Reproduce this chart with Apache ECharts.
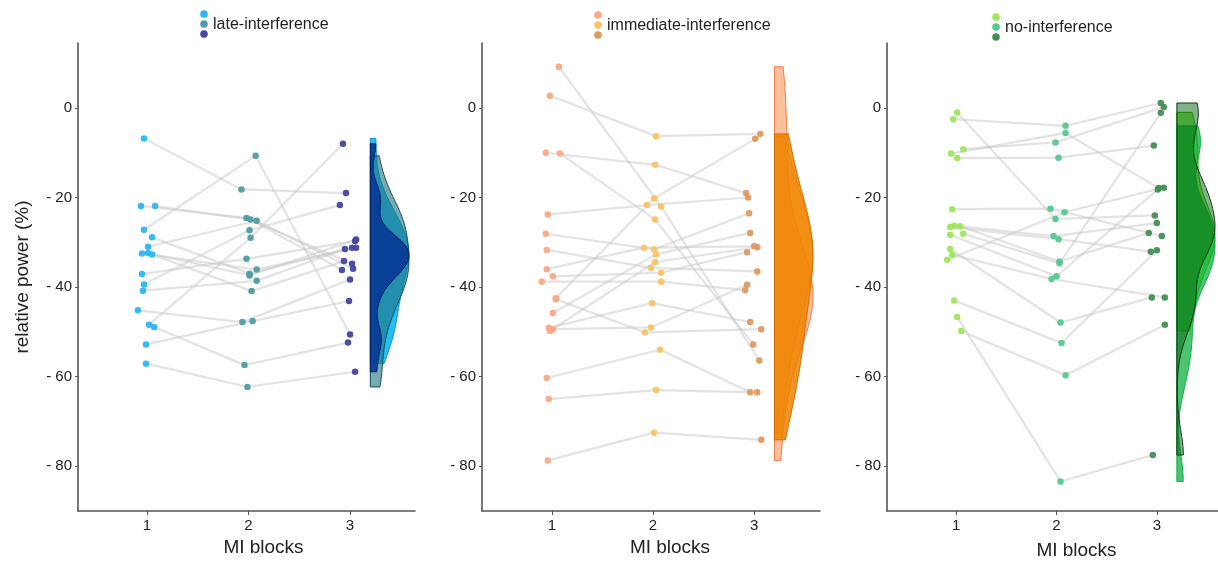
<!DOCTYPE html>
<html>
<head>
<meta charset="utf-8">
<script src="https://cdn.jsdelivr.net/npm/echarts@6/dist/echarts.min.js"></script>
<style>
  html, body { margin: 0; padding: 0; background: #fff; }
  #chart { width: 1218px; height: 562px; }
</style>
</head>
<body>
<div id="chart"></div>
<script>
// MI block tick labels
const blockTicks = [1, 2, 3];
const yTicks = [0, -20, -40, -60, -80];

// late-interference: one entry per subject, blocks 1..3, plus jittered x positions
const lateB1 = [-6.8, -27.2, -21.9, -21.9, -28.9, -31.0, -32.5, -32.4, -32.7, -37.1, -39.4, -40.8, -45.2, -48.4, -48.9, -52.8, -57.1];
const lateB2 = [-18.2, -10.7, -24.6, -24.9, -37.0, -25.2, -36.1, -37.4, -40.9, -33.7, -27.3, -38.6, -47.8, -29.0, -57.4, -47.6, -62.3];
const lateB3 = [-19.0, -50.6, -34.8, -36.2, -31.2, -35.9, -31.2, -29.4, -34.2, -29.7, -21.7, -31.5, -38.3, -8.0, -52.4, -43.1, -58.9];
const lateX1 = [0.97, 0.97, 0.94, 1.08, 1.05, 1.01, 0.95, 1.01, 1.05, 0.95, 0.97, 0.96, 0.91, 1.02, 1.07, 0.99, 0.99];
const lateX2 = [1.93, 2.07, 1.98, 2.02, 2.01, 2.08, 2.08, 2.01, 2.03, 1.98, 2.01, 2.08, 1.94, 2.02, 1.96, 2.04, 1.99];
const lateX3 = [2.96, 3.00, 3.02, 2.92, 3.02, 3.03, 3.06, 3.06, 2.94, 3.05, 2.90, 2.95, 3.00, 2.93, 2.98, 2.99, 3.05];

// immediate-interference
const immB1 = [9.2, 2.7, -10.0, -10.2, -23.8, -28.1, -31.7, -36.0, -37.6, -38.8, -42.5, -42.7, -45.8, -49.1, -49.4, -49.8, -60.3, -65.0, -78.7];
const immB2 = [-22.0, -6.3, -12.7, -24.9, -21.7, -31.6, -35.7, -31.2, -36.8, -38.8, -20.2, -50.1, -32.7, -43.6, -49.0, -34.4, -54.0, -63.0, -72.5];
const immB3 = [-56.4, -5.8, -19.0, -52.8, -20.0, -23.5, -36.5, -30.9, -32.2, -40.7, -6.9, -49.4, -27.9, -47.8, -39.5, -31.1, -63.5, -63.5, -74.1];
const immX1 = [1.07, 0.98, 0.94, 1.08, 0.96, 0.94, 0.95, 0.95, 1.01, 0.90, 1.04, 1.04, 1.01, 0.97, 1.01, 0.98, 0.95, 0.97, 0.96];
const immX2 = [2.08, 2.03, 2.02, 2.02, 1.94, 2.01, 1.98, 1.91, 2.08, 2.08, 2.01, 1.92, 2.03, 1.99, 1.98, 2.02, 2.07, 2.03, 2.01];
const immX3 = [3.05, 3.06, 2.92, 2.99, 2.94, 2.95, 3.03, 3.00, 2.93, 2.91, 3.01, 3.07, 2.96, 2.96, 2.93, 3.03, 2.96, 3.03, 3.07];

// no-interference
const noB1 = [-1.0, -2.5, -9.2, -10.2, -11.2, -22.6, -26.3, -26.4, -26.6, -28.3, -28.1, -33.9, -32.8, -31.5, -43.0, -46.7, -49.8];
const noB2 = [-24.8, -4.0, -7.7, -5.6, -11.1, -22.5, -28.6, -34.3, -29.3, -37.6, -34.7, -23.3, -38.2, -47.9, -52.5, -83.4, -59.7];
const noB3 = [-24.0, 1.1, 0.2, -17.9, -8.4, -28.6, -25.7, -27.9, -32.1, -18.2, -1.1, -17.8, -42.3, -42.3, -31.8, -77.5, -48.4];
const noX1 = [1.01, 0.97, 1.07, 0.95, 1.01, 0.96, 0.98, 1.04, 0.94, 0.94, 1.07, 0.91, 0.96, 0.94, 0.98, 1.01, 1.05];
const noX2 = [1.99, 2.09, 1.99, 2.09, 2.02, 1.94, 1.97, 2.03, 2.02, 2.00, 2.03, 2.08, 1.95, 2.04, 2.05, 2.04, 2.09];
const noX3 = [2.98, 3.04, 3.07, 3.02, 2.97, 3.05, 3.00, 2.92, 2.94, 3.01, 3.04, 3.07, 3.08, 2.95, 3.00, 2.96, 3.08];

const FONT = 'Liberation Sans, Arial, sans-serif';
const TXT = '#222';

const panels = [
  {
    name: 'late-interference',
    b: [lateB1, lateB2, lateB3], x: [lateX1, lateX2, lateX3],
    pt: ['#2bb6f4', '#4f9ca1', '#4545a2'],
    vfill: ['rgba(0,176,246,0.85)', 'rgba(30,113,123,0.6)', 'rgba(5,55,150,0.9)'],
    vstroke: ['#0a8fd0', '#0b4f58', '#031f5e'],
    left: 78, width: 337, xmin: 0.32, xmax: 3.64,
    leg: [204, 24], namePad: 34
  },
  {
    name: 'immediate-interference',
    b: [immB1, immB2, immB3], x: [immX1, immX2, immX3],
    pt: ['#fca885', '#fbc266', '#e0995e'],
    vfill: ['rgba(250,130,60,0.5)', 'rgba(250,174,57,0.5)', 'rgba(238,130,0,0.85)'],
    vstroke: ['#f07a40', '#e8960a', '#d46a00'],
    left: 482, width: 338, xmin: 0.31, xmax: 3.65,
    leg: [598, 25], namePad: 38
  },
  {
    name: 'no-interference',
    b: [noB1, noB2, noB3], x: [noX1, noX2, noX3],
    pt: ['#9fe65f', '#55c98f', '#438f53'],
    vfill: ['rgba(95,232,32,0.7)', 'rgba(0,170,48,0.7)', 'rgba(5,97,17,0.5)'],
    vstroke: ['#3aa810', '#10b040', '#0c3a14'],
    left: 887, width: 331, xmin: 0.31, xmax: 3.61,
    leg: [996, 27], namePad: 48
  }
];

// kernel density (gaussian, R's bw.nrd0), trimmed to data range like ggplot violins
function bwNrd0(v) {
  const n = v.length;
  const m = v.reduce((a, c) => a + c, 0) / n;
  const sd = Math.sqrt(v.reduce((a, c) => a + (c - m) * (c - m), 0) / (n - 1));
  const s = [...v].sort((a, b) => a - b);
  const q = p => { const h = (n - 1) * p, lo = Math.floor(h); return s[lo] + (h - lo) * ((s[lo + 1] ?? s[lo]) - s[lo]); };
  const lo = Math.min(sd, (q(0.75) - q(0.25)) / 1.34);
  return 0.9 * lo * Math.pow(n, -0.2);
}
function violinPoly(v, base, w) {
  const bw = bwNrd0(v), n = v.length;
  const lo = Math.min(...v), hi = Math.max(...v);
  const dens = y => v.reduce((a, c) => a + Math.exp(-0.5 * ((y - c) / bw) ** 2), 0) / (n * bw * Math.sqrt(2 * Math.PI));
  const steps = 160, ys = [];
  for (let i = 0; i <= steps; i++) ys.push(hi - (hi - lo) * i / steps);
  const ds = ys.map(dens);
  const dmax = Math.max(...ds);
  const pts = [[base, hi]];
  ys.forEach((y, i) => pts.push([base + w * ds[i] / dmax, y]));
  pts.push([base, lo]);
  return pts;
}

const grids = [], xAxes = [], yAxes = [], series = [], graphics = [];
panels.forEach((p, i) => {
  grids.push({ left: p.left, width: p.width, top: 43, height: 468, outerBoundsMode: 'none', containLabel: false });
  xAxes.push({
    type: 'value', gridIndex: i, min: p.xmin, max: p.xmax,
    name: 'MI blocks', nameLocation: 'middle', nameGap: i === 2 ? 30 : 27,
    nameTextStyle: { fontFamily: FONT, fontSize: 19, color: TXT, padding: [0, 0, 0, p.namePad] },
    axisLine: { onZero: false, lineStyle: { color: '#555', width: 1.6 } },
    axisTick: { customValues: blockTicks, length: 4, lineStyle: { color: '#555' } },
    axisLabel: { customValues: blockTicks, margin: 7, fontFamily: FONT, fontSize: 15, color: TXT },
    splitLine: { show: false }
  });
  yAxes.push({
    type: 'value', gridIndex: i, min: -90, max: 14.5,
    name: i === 0 ? 'relative power (%)' : '', nameLocation: 'middle', nameGap: 46, nameRotate: 90,
    nameTextStyle: { fontFamily: FONT, fontSize: 19, color: TXT },
    axisLine: { onZero: false, lineStyle: { color: '#555', width: 1.6 } },
    axisTick: { customValues: yTicks, length: 3, lineStyle: { color: '#555' } },
    axisLabel: {
      customValues: yTicks, margin: 6, fontFamily: FONT, fontSize: 15, color: TXT,
      formatter: v => v < 0 ? '- ' + Math.abs(v) : String(v)
    },
    splitLine: { show: false }
  });

  const [b1, b2, b3] = p.b, [x1, x2, x3] = p.x;
  series.push({
    type: 'lines', coordinateSystem: 'cartesian2d', xAxisIndex: i, yAxisIndex: i,
    polyline: true, silent: true, z: 1,
    lineStyle: { color: '#c8c8c8', width: 2.2, opacity: 0.5 },
    data: b1.map((_, k) => ({ coords: [[x1[k], b1[k]], [x2[k], b2[k]], [x3[k], b3[k]]] }))
  });
  p.b.forEach((vals, j) => {
    series.push({
      type: 'scatter', xAxisIndex: i, yAxisIndex: i, z: 3,
      symbolSize: 6.5, itemStyle: { color: p.pt[j], opacity: 0.95 },
      data: vals.map((v, k) => [p.x[j][k], v])
    });
  });
  p.b.forEach((vals, j) => {
    const poly = violinPoly(vals, 3.2, 0.38);
    series.push({
      type: 'custom', xAxisIndex: i, yAxisIndex: i, z: 4 + j, silent: true,
      data: [[3.2, vals[0]]],
      renderItem: (params, api) => ({
        type: 'polygon',
        shape: { points: poly.map(pt => api.coord(pt)) },
        style: { fill: p.vfill[j], stroke: p.vstroke[j], lineWidth: 1 }
      })
    });
  });

  // legend: three stacked keys and one label, as in the figure
  const [lx, ly] = p.leg;
  p.pt.forEach((c, j) => {
    graphics.push({ type: 'circle', shape: { cx: lx, cy: ly - 10 + 10 * j, r: 3.8 }, style: { fill: c } });
  });
  graphics.push({
    type: 'text', x: lx + 9, y: ly + 1,
    style: { text: p.name, font: '16px ' + FONT, fill: TXT, verticalAlign: 'middle' }
  });
});

const chart = echarts.init(document.getElementById('chart'), null, { renderer: 'canvas' });
chart.setOption({
  animation: false,
  backgroundColor: '#fff',
  grid: grids, xAxis: xAxes, yAxis: yAxes,
  series: series,
  graphic: graphics
});
window.addEventListener('resize', () => chart.resize());
</script>
</body>
</html>
